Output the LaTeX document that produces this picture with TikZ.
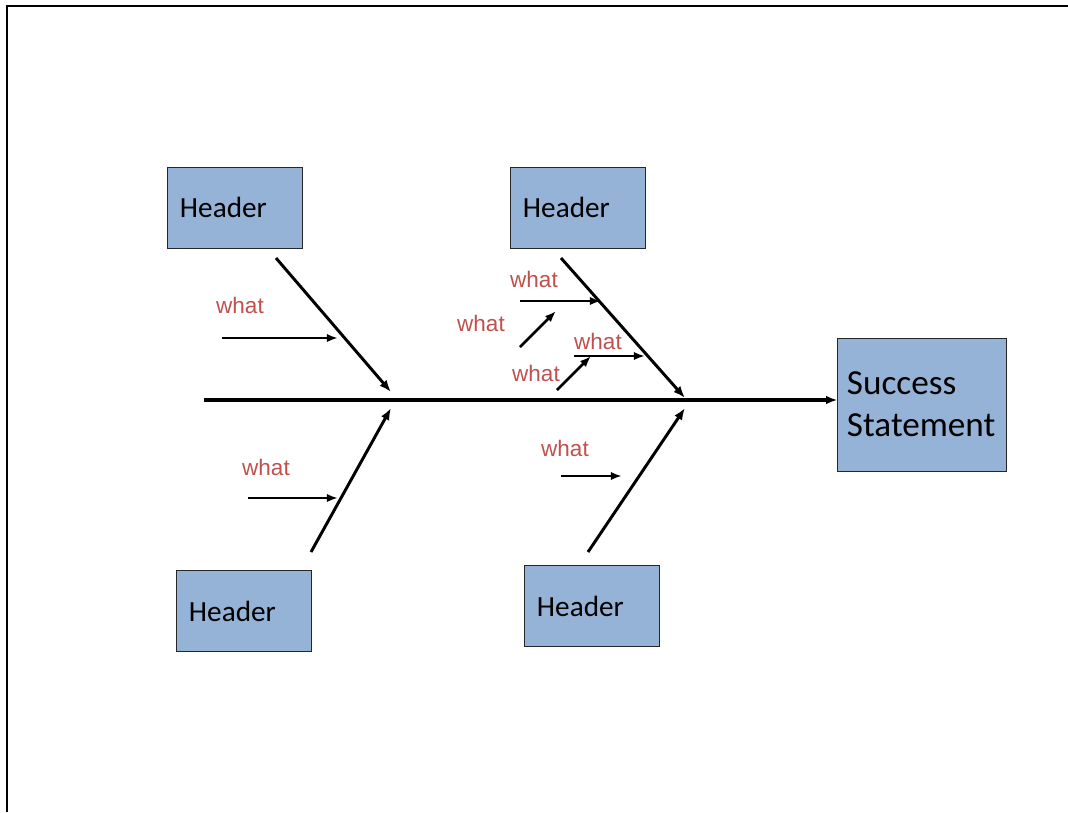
\documentclass[tikz,border=0pt]{standalone}
\usepackage{fontspec}
\setmainfont{Carlito}
\newfontfamily\arialfont{Liberation Sans}
\usetikzlibrary{arrows.meta}
\definecolor{boxblue}{HTML}{95B3D7}
\definecolor{whatred}{HTML}{C0504D}
\tikzstyle{hdr}=[draw=black!85,fill=boxblue,line width=.7pt,minimum height=2.025cm,text width=2.75cm,inner xsep=.3cm,align=left,font=\fontsize{20.8}{24}\selectfont]
\tikzstyle{goal}=[hdr,minimum height=3.325cm,text width=3.75cm,inner xsep=.225cm,font=\fontsize{25}{29.8}\selectfont]
\tikzstyle{bone}=[line width=2.1pt,-{Latex[length=8.5pt,width=6.5pt]}]
\tikzstyle{twig}=[line width=1.8pt,-{Latex[length=8pt,width=6pt]}]
\tikzstyle{lbl}=[text=whatred,font=\arialfont\fontsize{16}{19}\selectfont,inner sep=0pt]

\begin{document}
\begin{tikzpicture}[x=.025cm,y=-.025cm]
\useasboundingbox (0,0) rectangle (1068,812);
\draw[line width=2pt] (1068,6) -- (7,6) -- (7,812);
\node[hdr] (hdrA) at (235,207.5) {Header}; \node[hdr] (hdrB) at (578,207.5) {Header}; \node[hdr] (hdrC) at (244,611) {Header}; \node[hdr] (hdrD) at (592,606) {Header};
\node[goal] (goal) at (922,404.5) {Success\\Statement};
\coordinate (tail) at (204,400);
\draw[line width=2.3pt,-{Latex[length=8pt,width=6pt]}] (tail) -- (tail -| goal.west);
\coordinate (a0) at (276,258); \coordinate (a1) at (391,392); \coordinate (b0) at (561,258); \coordinate (b1) at (685,398);
\coordinate (c0) at (311,552); \coordinate (c1) at (391,408); \coordinate (d0) at (588,552); \coordinate (d1) at (685,408);
\draw[bone] (a0) -- (a1); \draw[bone] (b0) -- (b1); \draw[bone] (c0) -- (c1); \draw[bone] (d0) -- (d1);
\node[lbl] (w1) at (240,305) {what}; \node[lbl] (w2) at (266,467) {what}; \node[lbl] (w3) at (534,279) {what}; \node[lbl] (w4) at (481,323) {what};
\node[lbl] (w5) at (598,341) {what}; \node[lbl] (w6) at (536,373) {what}; \node[lbl] (w7) at (565,448) {what};
\coordinate (t1a) at (222,338); \coordinate (t1b) at (338,338); \coordinate (t2a) at (248,498); \coordinate (t2b) at (338,498);
\coordinate (t3a) at (520,301); \coordinate (t3b) at (601,301); \coordinate (t4a) at (520,347); \coordinate (t4b) at (556,311);
\coordinate (t5a) at (574,356); \coordinate (t5b) at (645,356); \coordinate (t6a) at (557,390); \coordinate (t6b) at (591,356);
\coordinate (t7a) at (561,476); \coordinate (t7b) at (622,476);
\draw[twig] (t1a) -- (t1b); \draw[twig] (t2a) -- (t2b); \draw[twig] (t3a) -- (t3b); \draw[twig] (t4a) -- (t4b); \draw[twig] (t5a) -- (t5b); \draw[twig] (t6a) -- (t6b); \draw[twig] (t7a) -- (t7b);
\end{tikzpicture}
\end{document}
